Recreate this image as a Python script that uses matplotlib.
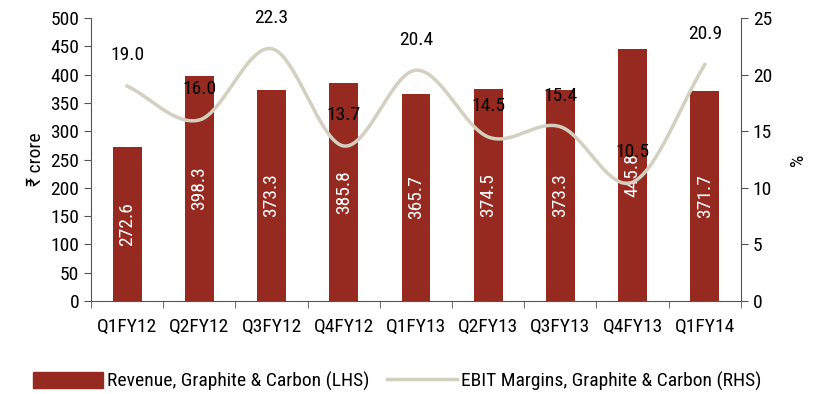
import numpy as np
import matplotlib.pyplot as plt
from matplotlib.lines import Line2D
from matplotlib.patches import Patch
from matplotlib import font_manager as fm

installed = {f.name for f in fm.fontManager.ttflist}
narrow = [n for n in ['Roboto Condensed', 'Archivo Narrow', 'Asap Condensed',
                      'Liberation Sans Narrow'] if n in installed]
plt.rcParams['font.family'] = narrow[:1] + ['DejaVu Sans']

quarters = ['Q1FY12', 'Q2FY12', 'Q3FY12', 'Q4FY12', 'Q1FY13',
            'Q2FY13', 'Q3FY13', 'Q4FY13', 'Q1FY14']
revenue = [272.6, 398.3, 373.3, 385.8, 365.7, 374.5, 373.3, 445.8, 371.7]
margin = [19.0, 16.0, 22.3, 13.7, 20.4, 14.5, 15.4, 10.5, 20.9]

bar_color = '#962A21'
line_color = '#D3D0C0'


def smooth(xs, ys, n=30):
    # Catmull-Rom spline through the points (like Excel smoothed line)
    xs = np.asarray(xs, float)
    ys = np.asarray(ys, float)
    px = np.concatenate([[2 * xs[0] - xs[1]], xs, [2 * xs[-1] - xs[-2]]])
    py = np.concatenate([[2 * ys[0] - ys[1]], ys, [2 * ys[-1] - ys[-2]]])
    ox, oy = [], []
    for i in range(1, len(px) - 2):
        t = np.linspace(0, 1, n, endpoint=(i == len(px) - 3))
        for p, o in ((px, ox), (py, oy)):
            p0, p1, p2, p3 = p[i - 1], p[i], p[i + 1], p[i + 2]
            o.extend(0.5 * (2 * p1 + (-p0 + p2) * t
                            + (2 * p0 - 5 * p1 + 4 * p2 - p3) * t ** 2
                            + (-p0 + 3 * p1 - 3 * p2 + p3) * t ** 3))
    return np.array(ox), np.array(oy)


fig = plt.figure(figsize=(8.16, 3.94), dpi=100)
ax = fig.add_axes([0.1115, 0.236, 0.7965, 0.718])
x = np.arange(len(quarters))

ax.bar(x, revenue, width=0.4, color=bar_color, zorder=2)
for xi, v in zip(x, revenue):
    ax.text(xi, v / 2, f'{v:.1f}', rotation=90, ha='center', va='center',
            color='white', fontsize=14, zorder=3)

ax.set_xlim(-0.5, len(quarters) - 0.5)
ax.set_ylim(0, 500)
ax.set_yticks(np.arange(0, 501, 50))
ax.set_ylabel('₹ crore', fontsize=14, labelpad=4)
ax.set_xticks(x)
ax.set_xticklabels(quarters, fontsize=14)
ax.set_xticks(np.arange(-0.5, len(quarters), 1), minor=True)
ax.tick_params(axis='x', which='major', length=0, pad=12)
ax.tick_params(axis='x', which='minor', length=5, direction='out', color='#555555')
ax.tick_params(axis='y', labelsize=14, length=5, direction='out', color='#555555')
for s in ['top', 'right']:
    ax.spines[s].set_visible(False)
for s in ['left', 'bottom']:
    ax.spines[s].set_color('#555555')

ax2 = ax.twinx()
ax2.set_ylim(0, 25)
ax2.set_yticks(np.arange(0, 26, 5))
ax2.tick_params(axis='y', labelsize=14, length=5, direction='out', color='#555555')
ax2.set_ylabel('%', fontsize=14, labelpad=12)
for s in ['top', 'left', 'bottom']:
    ax2.spines[s].set_visible(False)
ax2.spines['right'].set_color('#555555')

sx, sy = smooth(x, margin)
ax2.plot(sx, sy, color=line_color, lw=2.5, zorder=4)
for xi, m in zip(x, margin):
    ax2.annotate(f'{m:.1f}', (xi, m), xytext=(0, 22), textcoords='offset points',
                 ha='center', va='center', fontsize=14, color='black', zorder=5)

handles = [Patch(color=bar_color),
           Line2D([], [], color=line_color, lw=2.5)]
fig.legend(handles, ['Revenue, Graphite & Carbon (LHS)',
                     'EBIT Margins, Graphite & Carbon (RHS)'],
           loc='center', bbox_to_anchor=(0.487, 0.033), ncol=2, frameon=False,
           fontsize=14, handlelength=3.6, handleheight=0.9,
           handletextpad=0.2, columnspacing=0.9)

fig.savefig('out.png', dpi=100)
